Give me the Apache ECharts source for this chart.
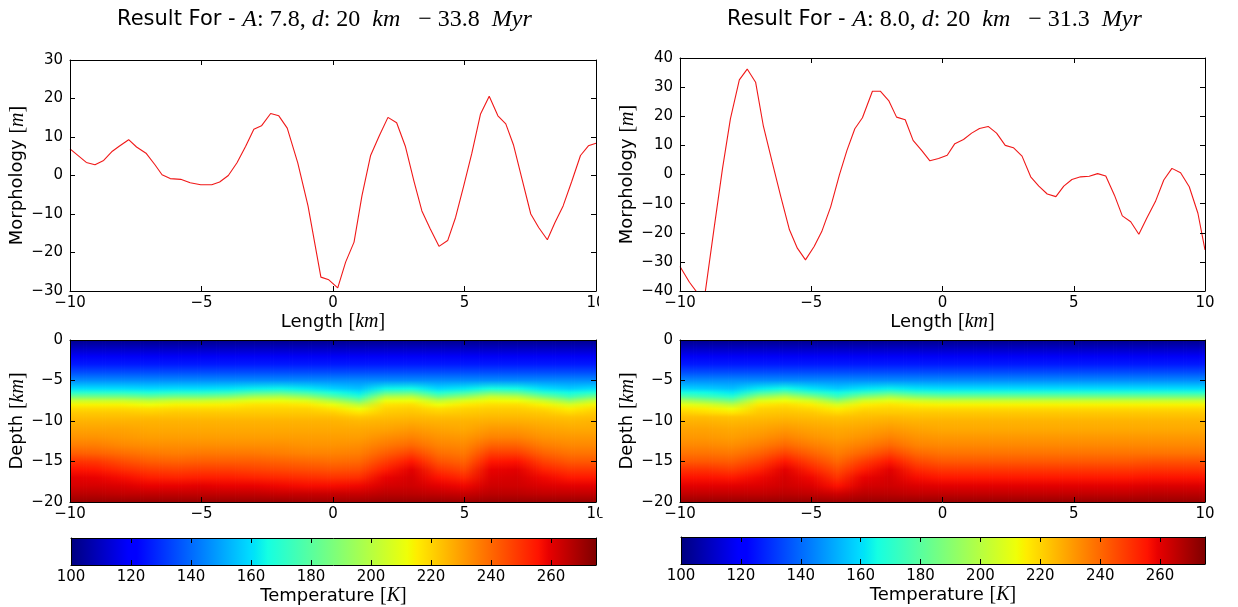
<!DOCTYPE html>
<html><head><meta charset="utf-8">
<script src="https://cdn.jsdelivr.net/npm/echarts@6/dist/echarts.min.js"></script>
<style>html,body{margin:0;padding:0;background:#fff}#c{width:1238px;height:607px}</style>
</head><body><div id="c"></div>
<script>
// ---------------- DATA ----------------
const panelA = ['7.8', '8.0'];
const panelD = ['20', '20'];
const panelAge = ['33.8', '31.3'];

// Morphology profiles (Length km, Morphology m)
const xLeft = [-10, -9.38, -9.05, -8.72, -8.39, -8.13, -7.77, -7.47, -7.11, -6.77, -6.50, -6.19, -5.79, -5.43, -5.03, -4.61, -4.31, -3.98, -3.65, -3.32, -3.01, -2.72, -2.37, -2.06, -1.74, -1.34, -0.95, -0.46, -0.16, 0.18, 0.48, 0.80, 1.10, 1.43, 1.76, 2.09, 2.42, 2.75, 3.08, 3.38, 3.70, 4.03, 4.36, 4.66, 4.97, 5.28, 5.61, 5.94, 6.27, 6.57, 6.86, 7.19, 7.52, 7.82, 8.15, 8.44, 8.75, 9.08, 9.41, 9.71, 10];
const yLeft = [6.9, 3.4, 2.8, 3.9, 6.3, 7.6, 9.3, 7.4, 5.8, 2.8, 0.2, -0.8, -1.0, -1.9, -2.4, -2.4, -1.7, 0, 3.3, 7.6, 12.0, 12.9, 16.1, 15.5, 12.3, 3.3, -7.9, -26.4, -27.1, -29.2, -22.5, -17.3, -5.3, 5.2, 10.3, 15.1, 13.7, 7.6, -1.5, -9.2, -13.9, -18.4, -16.9, -10.9, -2.7, 5.8, 16.0, 20.6, 15.5, 13.4, 8.0, -1.0, -10.0, -13.5, -16.7, -12.2, -7.9, -1.5, 5.2, 7.7, 8.4];
const xRight = [-10, -9.64, -9.35, -9.04, -8.71, -8.38, -8.08, -7.74, -7.44, -7.12, -6.83, -6.49, -6.16, -5.83, -5.53, -5.22, -4.89, -4.60, -4.26, -3.93, -3.64, -3.34, -3.05, -2.67, -2.37, -2.05, -1.75, -1.42, -1.12, -0.78, -0.48, -0.15, 0.18, 0.47, 0.80, 1.11, 1.41, 1.74, 2.06, 2.39, 2.70, 3.03, 3.36, 3.67, 3.99, 4.32, 4.62, 4.93, 5.26, 5.59, 5.91, 6.22, 6.55, 6.85, 7.17, 7.48, 7.78, 8.11, 8.43, 8.74, 9.07, 9.40, 9.73, 10];
const yRight = [-31.6, -37.0, -40.5, -40.5, -19.0, 2.1, 19.1, 32.5, 36.2, 31.7, 16.9, 4.3, -7.6, -19.0, -25.3, -29.3, -24.7, -19.6, -11.1, -0.2, 8.3, 15.7, 19.5, 28.6, 28.6, 25.4, 19.7, 18.8, 11.7, 8.1, 4.7, 5.5, 6.6, 10.6, 12.0, 14.2, 15.8, 16.5, 14.2, 10.0, 9.2, 6.3, -0.8, -4.0, -6.7, -7.6, -4.0, -1.7, -0.8, -0.6, 0.3, -0.5, -7.1, -14.2, -16.2, -20.5, -15.0, -9.3, -1.9, 2.1, 0.6, -4.2, -13.3, -25.9];

// Temperature field: rows = depth levels (km), columns = columnX (km)
const columnX = [-10, -9, -8, -7, -6, -5, -4, -3, -2, -1, 0, 1, 2, 3, 4, 5, 6, 7, 8, 9, 10];
const depthLevels = [0, -1, -2, -3, -4, -5, -6, -6.5, -7, -7.5, -8, -8.5, -9, -9.5, -10, -11, -12, -13, -14, -15, -16, -17, -18, -19, -20];
const tempLeft = [
  [102,102,102,102,102,102,102,102,102,102,102,102,102,102,102,102,102,102,102,102,102],
  [110,110,110,110,110,110,110,110,110,110,110,110,110,110,110,110,110,110,110,110,110],
  [118,118,118,118,118,118,118,118,118,118,118,118,118,118,118,118,118,118,118,118,118],
  [126,126,126,126,126,126,126,126,126,126,126,126,126,126,126,126,126,126,126,126,126],
  [135,135,135,135,135,135,135,135,135,135,135,135,135,135,135,135,135,135,135,135,135],
  [146,146,146,146,146,146,146,146,146,146,146,146,146,146,146,146,146,146,146,146,146],
  [160,160,160,159,160,160,161,163,164,162,158,155,164,165,159,162,166,165,160,157,160],
  [170,170,170,168,170,170,172,178,180,175,167,162,180,182,168,175,185,182,170,165,170],
  [186,186,186,183,186,186,189,196,198,192,180,170,198,200,183,192,203,200,186,175,186],
  [204,204,204,201,204,204,206,210,211,208,198,185,211,212,201,208,213,212,204,192,204],
  [214,214,214,212,214,214,215,217,217,216,211,201,217,218,212,216,218,218,214,207,214],
  [219,219,219,218,219,219,219,220,220,220,217,212,220,221,218,220,221,221,219,215,219],
  [222,222,222,221,222,222,222,222,222,222,221,217,222,223,221,222,223,223,222,219,222],
  [224,224,224,224,224,224,224,224,224,224,224,222,224,225,224,224,225,225,224,223,224],
  [226,226,226,226,226,226,226,226,226,226,226,225,226,227,226,226,227,227,226,225,226],
  [229,229,229,228,228,228,228,228,228,228,228,228,229,231,229,228,231,231,229,228,228],
  [232,232,231,230,230,230,230,230,230,230,230,230,233,235,232,231,235,235,232,231,231],
  [236,236,234,233,233,233,233,233,233,232,232,233,237,240,235,234,241,241,236,234,234],
  [242,241,239,237,236,237,237,237,236,235,235,236,242,247,239,237,248,248,241,238,238],
  [250,249,245,242,241,242,242,242,241,240,239,240,248,255,244,241,255,256,247,243,243],
  [256,255,251,248,247,248,248,247,246,245,244,245,254,260,250,246,259,260,253,249,249],
  [260,259,257,254,253,254,254,253,252,251,250,251,259,262,256,252,261,262,258,255,255],
  [262,262,261,259,259,260,259,259,258,257,257,258,262,263,260,258,263,263,261,260,260],
  [266,266,265,265,265,265,265,265,264,264,264,264,266,266,265,264,266,266,265,265,265],
  [271,271,271,271,271,271,271,271,271,270,270,270,271,271,271,270,271,271,271,271,271]
];
const tempRight = [
  [102,102,102,102,102,102,102,102,102,102,102,102,102,102,102,102,102,102,102,102,102],
  [110,110,110,110,110,110,110,110,110,110,110,110,110,110,110,110,110,110,110,110,110],
  [118,118,118,118,118,118,118,118,118,118,118,118,118,118,118,118,118,118,118,118,118],
  [126,126,126,126,126,126,126,126,126,126,126,126,126,126,126,126,126,126,126,126,126],
  [135,135,135,135,135,135,135,135,135,135,135,135,135,135,135,135,135,135,135,135,135],
  [146,146,146,146,146,146,146,146,146,146,146,146,146,146,146,146,146,146,146,146,146],
  [158,157,155,162,165,161,157,161,163,161,160,160,160,160,160,160,160,160,160,160,160],
  [167,165,162,175,182,172,165,172,178,172,170,170,170,170,170,170,170,170,170,170,170],
  [180,175,170,192,200,189,175,189,196,189,186,186,186,186,186,186,186,186,186,186,186],
  [198,192,185,208,212,206,192,206,210,206,204,204,204,204,204,204,204,204,204,204,204],
  [211,207,201,216,218,215,207,215,217,215,214,214,214,214,214,214,214,214,214,214,214],
  [217,215,212,220,221,219,215,219,220,219,219,219,219,219,219,219,219,219,219,219,219],
  [221,219,217,222,223,222,219,222,222,222,222,222,222,222,222,222,222,222,222,222,222],
  [224,224,223,224,225,224,223,224,225,224,224,224,224,224,224,224,224,224,224,224,224],
  [226,226,225,226,227,226,225,226,227,226,226,226,226,226,226,226,226,226,226,226,226],
  [229,229,228,229,231,229,228,229,231,229,228,228,228,228,228,228,228,228,228,228,228],
  [231,231,230,232,235,232,230,232,235,232,231,231,231,231,231,231,231,231,231,231,231],
  [234,234,233,236,240,236,233,236,240,235,234,234,234,234,234,234,234,234,234,234,234],
  [238,238,237,241,247,241,236,241,247,240,238,238,238,238,238,238,238,238,238,238,238],
  [243,243,242,247,255,247,240,248,255,246,243,243,243,243,243,243,243,243,244,244,244],
  [250,250,248,253,260,253,245,254,260,252,249,249,249,249,249,249,249,249,250,250,250],
  [256,256,255,258,262,258,250,259,262,257,255,255,255,255,255,255,255,255,256,256,256],
  [260,260,260,261,263,261,256,262,263,261,260,260,260,260,260,260,260,260,261,261,261],
  [265,265,265,265,266,265,263,266,266,265,265,265,265,265,265,265,265,265,266,266,266],
  [271,271,271,271,271,271,270,271,271,271,271,271,271,271,271,271,271,271,271,271,271]
];
const tempRange = [100, 275];

// ---------------- STYLE / HELPERS ----------------
const SANS = 'DejaVu Sans', SERIF = 'Liberation Serif';
const minus = v => String(v).replace('-', '\u2212');
const black = { color: '#000', width: 1 };
const richMath = {
  m: { fontFamily: SERIF, fontSize: 20, color: '#000' },
  mi: { fontFamily: SERIF, fontStyle: 'italic', fontSize: 20, color: '#000' }
};
const nameStyle = { fontFamily: SANS, fontSize: 18, color: '#000', rich: richMath };

function jetRGB(t) {
  t = Math.min(1, Math.max(0, t));
  const r = t < 0.35 ? 0 : t < 0.66 ? (t - 0.35) / 0.31 : t < 0.89 ? 1 : 1 - (t - 0.89) / 0.11 * 0.5;
  const g = t < 0.125 ? 0 : t < 0.375 ? (t - 0.125) / 0.25 : t < 0.64 ? 1 : t < 0.91 ? 1 - (t - 0.64) / 0.27 : 0;
  const b = t < 0.11 ? 0.5 + t / 0.11 * 0.5 : t < 0.34 ? 1 : t < 0.65 ? 1 - (t - 0.34) / 0.31 : 0;
  return [r * 255, g * 255, b * 255];
}
const css = c => 'rgb(' + Math.round(c[0]) + ',' + Math.round(c[1]) + ',' + Math.round(c[2]) + ')';
const jet = t => css(jetRGB(t));
const tempRGB = T => jetRGB((T - tempRange[0]) / (tempRange[1] - tempRange[0]));

const grids = [
  { left: 70, top: 60, width: 526, height: 231 },
  { left: 680, top: 58, width: 525, height: 233 },
  { left: 70, top: 340, width: 526, height: 162 },
  { left: 680, top: 340, width: 525, height: 162 },
  { left: 71, top: 538, width: 525, height: 27 },
  { left: 681, top: 537, width: 524, height: 27 }
];

const xAxes = [], yAxes = [];
function addX(g, min, max, interval, opt) {
  opt = opt || {};
  const tick = { show: opt.ticks !== false, inside: true, length: 5, lineStyle: black };
  xAxes.push({
    type: 'value', gridIndex: g, position: 'bottom', min, max, interval, z: 10,
    axisLine: { show: true, onZero: false, lineStyle: black }, axisTick: tick, splitLine: { show: false },
    axisLabel: { show: true, color: '#000', fontFamily: SANS, fontSize: 15, margin: 5, formatter: minus, showMaxLabel: opt.showMax !== false },
    name: opt.name || '', nameLocation: 'middle', nameGap: opt.gap || 20, nameTextStyle: nameStyle
  });
  xAxes.push({
    type: 'value', gridIndex: g, position: 'top', min, max, interval, z: 10,
    axisLine: { show: true, onZero: false, lineStyle: black }, axisTick: tick,
    axisLabel: { show: false }, splitLine: { show: false }
  });
}
function addY(g, min, max, interval, opt) {
  opt = opt || {};
  const tick = { show: opt.ticks !== false, inside: true, length: 5, lineStyle: black };
  yAxes.push({
    type: 'value', gridIndex: g, position: 'left', min, max, interval, z: 10,
    axisLine: { show: true, onZero: false, lineStyle: black }, axisTick: tick, splitLine: { show: false },
    axisLabel: { show: opt.labels !== false, color: '#000', fontFamily: SANS, fontSize: 15, margin: 7, formatter: minus },
    name: opt.name || '', nameLocation: 'middle', nameGap: opt.gap || 40, nameTextStyle: nameStyle
  });
  yAxes.push({
    type: 'value', gridIndex: g, position: 'right', min, max, interval, z: 10,
    axisLine: { show: true, onZero: false, lineStyle: black }, axisTick: tick,
    axisLabel: { show: false }, splitLine: { show: false }
  });
}

addX(0, -10, 10, 5, { name: 'Length {m|[}{mi|km}{m|]}', gap: 21 });
addY(0, -30, 30, 10, { name: 'Morphology {m|[}{mi|m}{m|]}', gap: 27 });
addX(1, -10, 10, 5, { name: 'Length {m|[}{mi|km}{m|]}', gap: 21 });
addY(1, -40, 40, 10, { name: 'Morphology {m|[}{mi|m}{m|]}', gap: 27 });
addX(2, -10, 10, 5);
addY(2, -20, 0, 5, { name: 'Depth {m|[}{mi|km}{m|]}', gap: 27 });
addX(3, -10, 10, 5);
addY(3, -20, 0, 5, { name: 'Depth {m|[}{mi|km}{m|]}', gap: 27 });
addX(4, 100, 275, 20, { name: 'Temperature {m|[}{mi|K}{m|]}', gap: 19, showMax: false });
addY(4, 0, 1, 1, { labels: false, ticks: false });
addX(5, 100, 275, 20, { name: 'Temperature {m|[}{mi|K}{m|]}', gap: 19, showMax: false });
addY(5, 0, 1, 1, { labels: false, ticks: false });

function lineSeries(g, xs, ys) {
  return {
    type: 'line', xAxisIndex: 2 * g, yAxisIndex: 2 * g, data: xs.map((x, i) => [x, ys[i]]),
    showSymbol: false, symbol: 'none', clip: true, z: 3,
    lineStyle: { color: '#f01818', width: 1.1 }
  };
}
// Each item = one cell interval between two sampled columns; it is shaded
// smoothly (like imshow bilinear display) from the two bounding columns.
function heatSeries(g, grid) {
  return {
    type: 'custom', xAxisIndex: 2 * g, yAxisIndex: 2 * g, clip: true, z: 1,
    data: columnX.slice(0, -1).map((x, i) => [x, columnX[i + 1], i]),
    encode: { x: [0, 1] },
    renderItem(params, api) {
      const xa = api.value(0), xb = api.value(1), i = api.value(2);
      const p0 = api.coord([xa, 0]), p1 = api.coord([xb, -20]);
      const W = p1[0] - p0[0], H = p1[1] - p0[1];
      const n = Math.max(1, Math.ceil(W / 1.5));
      const colA = depthLevels.map((d, k) => tempRGB(grid[k][i]));
      const colB = depthLevels.map((d, k) => tempRGB(grid[k][i + 1]));
      const children = [];
      for (let s = 0; s < n; s++) {
        const f = (s + 0.5) / n;
        const stops = depthLevels.map((d, k) => ({
          offset: -d / 20,
          color: css([0, 1, 2].map(c => colA[k][c] * (1 - f) + colB[k][c] * f))
        }));
        children.push({
          type: 'rect',
          shape: { x: p0[0] + s * W / n, y: p0[1], width: W / n + 0.8, height: H },
          style: { fill: new echarts.graphic.LinearGradient(0, 0, 0, 1, stops) }
        });
      }
      return { type: 'group', children };
    }
  };
}
const jetBreaks = [0, 0.11, 0.125, 0.34, 0.35, 0.375, 0.64, 0.65, 0.66, 0.89, 0.91, 1];
function colorbarSeries(g) {
  return {
    type: 'custom', xAxisIndex: 2 * g, yAxisIndex: 2 * g, clip: true, z: 1,
    data: [[tempRange[0], tempRange[1]]],
    encode: { x: [0, 1] },
    renderItem(params, api) {
      const p0 = api.coord([api.value(0), 1]), p1 = api.coord([api.value(1), 0]);
      return {
        type: 'rect',
        shape: { x: p0[0], y: p0[1], width: p1[0] - p0[0], height: p1[1] - p0[1] },
        style: { fill: new echarts.graphic.LinearGradient(0, 0, 1, 0, jetBreaks.map(t => ({ offset: t, color: jet(t) }))) }
      };
    }
  };
}

function titleFor(k, left) {
  return {
    left: left, top: 3,
    text: '{s|Result For - }{i|A}{m|: ' + panelA[k] + ', }{i|d}{m|: ' + panelD[k] + '  }{i|km}{m|   \u2212 ' + panelAge[k] + '  }{i|Myr}',
    textStyle: {
      fontWeight: 'normal',
      rich: {
        s: { fontFamily: SANS, fontSize: 21, fontWeight: 'normal', color: '#000' },
        i: { fontFamily: SERIF, fontStyle: 'italic', fontWeight: 'normal', fontSize: 24, color: '#000' },
        m: { fontFamily: SERIF, fontWeight: 'normal', fontSize: 24, color: '#000' }
      }
    }
  };
}

const chart = echarts.init(document.getElementById('c'), null, { renderer: 'canvas' });
chart.setOption({
  animation: false,
  backgroundColor: '#fff',
  title: [titleFor(0, 112), titleFor(1, 722)],
  grid: grids,
  xAxis: xAxes,
  yAxis: yAxes,
  series: [
    lineSeries(0, xLeft, yLeft),
    lineSeries(1, xRight, yRight),
    heatSeries(2, tempLeft),
    heatSeries(3, tempRight),
    colorbarSeries(4),
    colorbarSeries(5)
  ],
  graphic: [
    { type: 'rect', left: 599, top: 292, shape: { width: 10, height: 225 }, style: { fill: '#fff' }, z: 100 }
  ]
});
</script></body></html>
